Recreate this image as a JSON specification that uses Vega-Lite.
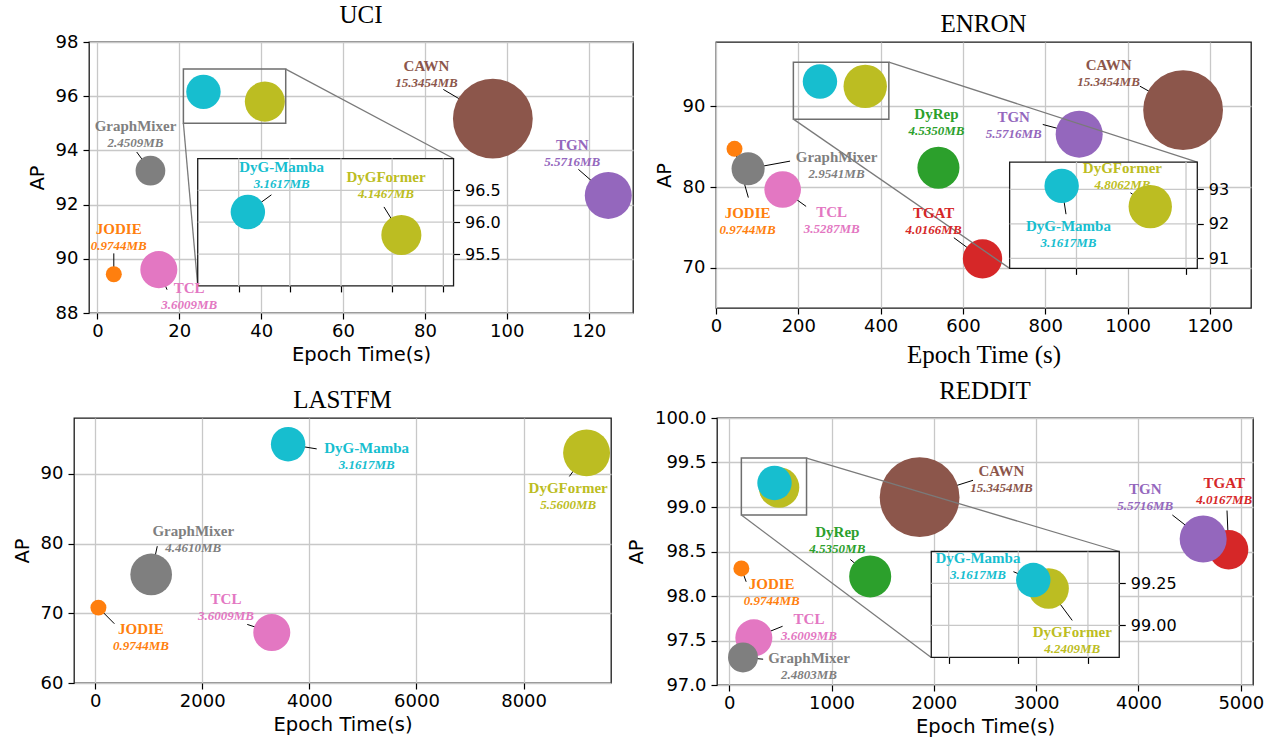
{
"$schema": "https://vega.github.io/schema/vega-lite/v6.json",
"padding": {"left": 11, "top": 2, "right": 0, "bottom": 0},
"background": "white",
"config": {
 "view": {"stroke": "#1a1a1a", "strokeWidth": 1.3},
 "legend": {"disable": true},
 "title": {"font": "Liberation Serif", "fontSize": 25, "fontWeight": "normal", "color": "black", "frame": "group", "offset": 5},
 "axis": {"labelFont": "DejaVu Sans", "labelFontSize": 18, "labelColor": "black", "titleFont": "DejaVu Sans", "titleFontSize": 19.5, "titleFontWeight": "normal", "titleColor": "black", "grid": true, "gridColor": "#c8c8c8", "gridWidth": 1.3, "gridOpacity": 1, "tickColor": "black", "tickSize": 6, "tickWidth": 1.2, "domain": false, "labelFlush": false, "labelOverlap": false},
 "axisX": {"labelPadding": 3, "titlePadding": 5},
 "axisY": {"labelPadding": 5, "titlePadding": 8}
},
"datasets": {
 "uci": [
  {"m":"JODIE","t":4.0,"ap":89.43,"mb":0.9744,"mbl":"0.9744MB","lx":5.2,"ly":91.11,"ex":4.0,"ey":90.2,"z":0},
  {"m":"GraphMixer","t":12.95,"ap":93.25,"mb":2.4509,"mbl":"2.4509MB","lx":9.3,"ly":94.89,"ex":9.6,"ey":93.94,"z":0},
  {"m":"TCL","t":15.0,"ap":89.6,"mb":3.6009,"mbl":"3.6009MB","lx":22.4,"ly":88.93,"ex":17.0,"ey":88.86,"z":0},
  {"m":"CAWN","t":96.6,"ap":95.17,"mb":15.3454,"mbl":"15.3454MB","lx":80.4,"ly":97.11,"ex":84.5,"ey":96.25,"z":0},
  {"m":"TGN","t":124.8,"ap":92.34,"mb":5.5716,"mbl":"5.5716MB","lx":116.0,"ly":94.21,"ex":117.5,"ey":93.3,"z":0},
  {"m":"DyGFormer","t":40.9,"ap":95.8,"mb":4.1467,"mbl":"4.1467MB","lx":39.4,"ly":96.71,"ex":39.2,"ey":96.24,"z":1},
  {"m":"DyG-Mamba","t":25.9,"ap":96.16,"mb":3.1617,"mbl":"3.1617MB","lx":29.2,"ly":96.86,"ex":28.2,"ey":96.43,"z":1}
 ],
 "enron": [
  {"m":"JODIE","t":45,"ap":84.75,"mb":0.9744,"mbl":"0.9744MB","lx":76.7,"ly":76.74,"ex":78.6,"ey":78.7,"z":0},
  {"m":"GraphMixer","t":78,"ap":82.27,"mb":2.9541,"mbl":"2.9541MB","lx":293,"ly":83.76,"ex":180,"ey":83.22,"z":0},
  {"m":"TCL","t":162,"ap":79.7,"mb":3.5287,"mbl":"3.5287MB","lx":281,"ly":76.94,"ex":219,"ey":77.6,"z":0},
  {"m":"DyRep","t":540.5,"ap":82.4,"mb":4.535,"mbl":"4.5350MB","lx":535.6,"ly":89.1,"ex":538.6,"ey":84.7,"z":0},
  {"m":"TGAT","t":647.6,"ap":71.1,"mb":4.0166,"mbl":"4.0166MB","lx":528.7,"ly":76.74,"ex":578,"ey":73.72,"z":0},
  {"m":"TGN","t":882.5,"ap":86.57,"mb":5.5716,"mbl":"5.5716MB","lx":723.3,"ly":88.72,"ex":794,"ey":87.77,"z":0},
  {"m":"CAWN","t":1135,"ap":89.55,"mb":15.3454,"mbl":"15.3454MB","lx":954,"ly":95.2,"ex":1030,"ey":92.52,"z":0},
  {"m":"DyGFormer","t":362.6,"ap":92.5,"mb":4.8062,"mbl":"4.8062MB","lx":328,"ly":93.63,"ex":338,"ey":92.9,"z":1},
  {"m":"DyG-Mamba","t":252.6,"ap":93.1,"mb":3.1617,"mbl":"3.1617MB","lx":261,"ly":91.94,"ex":258,"ey":92.28,"z":1}
 ],
 "lastfm": [
  {"m":"JODIE","t":61,"ap":70.81,"mb":0.9744,"mbl":"0.9744MB","lx":855,"ly":67.71,"ex":359,"ey":68.5,"z":0},
  {"m":"GraphMixer","t":1046,"ap":75.57,"mb":4.461,"mbl":"4.4610MB","lx":1832,"ly":81.86,"ex":1160,"ey":79.62,"z":0},
  {"m":"TCL","t":3298,"ap":67.24,"mb":3.6009,"mbl":"3.6009MB","lx":2443,"ly":72.1,"ex":2840,"ey":68.4,"z":0},
  {"m":"DyG-Mamba","t":3603,"ap":94.24,"mb":3.1617,"mbl":"3.1617MB","lx":5069,"ly":93.67,"ex":4137,"ey":93.57,"z":0},
  {"m":"DyGFormer","t":9176,"ap":93.0,"mb":5.56,"mbl":"5.5600MB","lx":8832,"ly":87.95,"ex":8855,"ey":89.62,"z":0}
 ],
 "reddit": [
  {"m":"JODIE","t":119,"ap":98.31,"mb":0.9744,"mbl":"0.9744MB","lx":415,"ly":98.13,"ex":166,"ey":98.16,"z":0},
  {"m":"TCL","t":241,"ap":97.53,"mb":3.6009,"mbl":"3.6009MB","lx":780,"ly":97.74,"ex":522,"ey":97.66,"z":0},
  {"m":"GraphMixer","t":135,"ap":97.31,"mb":2.4803,"mbl":"2.4803MB","lx":780,"ly":97.30,"ex":332,"ey":97.29,"z":0},
  {"m":"DyRep","t":1378,"ap":98.22,"mb":4.535,"mbl":"4.5350MB","lx":1057,"ly":98.72,"ex":1184,"ey":98.41,"z":0},
  {"m":"CAWN","t":1861,"ap":99.11,"mb":15.3454,"mbl":"15.3454MB","lx":2660,"ly":99.41,"ex":2383,"ey":99.30,"z":0},
  {"m":"TGAT","t":4881,"ap":98.52,"mb":4.0167,"mbl":"4.0167MB","lx":4838,"ly":99.27,"ex":4865,"ey":98.96,"z":0},
  {"m":"TGN","t":4632,"ap":98.64,"mb":5.5716,"mbl":"5.5716MB","lx":4066,"ly":99.2,"ex":4331,"ey":98.91,"z":0},
  {"m":"DyGFormer","t":487,"ap":99.22,"mb":4.2409,"mbl":"4.2409MB","lx":555,"ly":98.96,"ex":555,"ey":99.03,"z":1},
  {"m":"DyG-Mamba","t":443,"ap":99.27,"mb":3.1617,"mbl":"3.1617MB","lx":284,"ly":99.4,"ex":386,"ey":99.32,"z":1}
 ]
},
"resolve": {"scale": {"x": "independent", "y": "independent"}},
"spacing": 10,
"vconcat": [
{"hconcat": [
 {"width": 1, "height": 1, "data": {"values": [{"a": 0}]}, "mark": {"type": "point", "opacity": 0}, "encoding": {}, "view": {"stroke": null}},
 {"hconcat": [
 {"title": {"text": "UCI"}, "width": 544, "height": 271, "data": {"name": "uci"},
  "resolve": {"scale": {"x": "independent", "y": "independent"}},
  "layer": [
   {"layer": [
    {"transform": [{"filter": "datum.z == 0"}], "mark": {"type": "rule", "color": "black", "strokeWidth": 1}, "encoding": {"x": {"field": "t", "type": "quantitative"}, "y": {"field": "ap", "type": "quantitative"}, "x2": {"field": "ex"}, "y2": {"field": "ey"}}},
    {"mark": {"type": "circle", "opacity": 1}, "encoding": {
      "x": {"field": "t", "type": "quantitative", "scale": {"domain": [-2.06, 130.84], "nice": false, "zero": false}, "axis": {"values": [0,20,40,60,80,100,120], "format": "d", "title": "Epoch Time(s)"}},
      "y": {"field": "ap", "type": "quantitative", "scale": {"domain": [88, 98], "nice": false, "zero": false}, "axis": {"values": [88,90,92,94,96,98], "format": "d", "title": "AP"}},
      "size": {"field": "mb", "type": "quantitative", "scale": {"domain": [0.9744, 15.3454], "range": [255, 6366], "zero": false}},
      "color": {"field": "m", "type": "nominal", "scale": {"domain": ["JODIE","DyRep","TGAT","TGN","CAWN","TCL","GraphMixer","DyGFormer","DyG-Mamba"], "range": ["#ff7f0e","#2ca02c","#d62728","#9467bd","#8c564b","#e377c2","#7f7f7f","#bcbd22","#17becf"]}}}},
    {"data": {"values": [{"x1": 21, "x2": 46, "y1": 95, "y2": 97}]}, "mark": {"type": "rect", "fill": "white", "fillOpacity": 0, "stroke": "#6e6e6e", "strokeWidth": 1.5}, "encoding": {"x": {"field": "x1", "type": "quantitative"}, "x2": {"field": "x2"}, "y": {"field": "y1", "type": "quantitative"}, "y2": {"field": "y2"}}},
    {"data": {"values": [{"x1": 46, "y1": 97, "x2": 87, "y2": 93.7}, {"x1": 21, "y1": 95, "x2": 24.5, "y2": 89.0}]}, "mark": {"type": "rule", "color": "#7a7a7a", "strokeWidth": 1.3}, "encoding": {"x": {"field": "x1", "type": "quantitative"}, "x2": {"field": "x2"}, "y": {"field": "y1", "type": "quantitative"}, "y2": {"field": "y2"}}},
    {"data": {"values": [{"x1": 24.5, "x2": 87, "y1": 89.0, "y2": 93.7}]}, "mark": {"type": "rect", "fill": "white", "stroke": "#1a1a1a", "strokeWidth": 1.3}, "encoding": {"x": {"field": "x1", "type": "quantitative"}, "x2": {"field": "x2"}, "y": {"field": "y1", "type": "quantitative"}, "y2": {"field": "y2"}}},
    {"transform": [{"filter": "datum.z == 0"}], "mark": {"type": "text", "font": "Liberation Serif", "fontWeight": "bold", "fontSize": 15, "baseline": "middle"}, "encoding": {"x": {"field": "lx", "type": "quantitative"}, "y": {"field": "ly", "type": "quantitative"}, "text": {"field": "m"}, "color": {"field": "m", "type": "nominal"}}},
    {"transform": [{"filter": "datum.z == 0"}], "mark": {"type": "text", "font": "Liberation Serif", "fontWeight": "bold", "fontStyle": "italic", "fontSize": 13, "baseline": "middle", "dy": 17}, "encoding": {"x": {"field": "lx", "type": "quantitative"}, "y": {"field": "ly", "type": "quantitative"}, "text": {"field": "mbl"}, "color": {"field": "m", "type": "nominal"}}}
   ]},
   {"layer": [
    {"data": {"values": [{"v": 95.5}, {"v": 96}, {"v": 96.5}]}, "mark": {"type": "rule", "color": "#c8c8c8", "strokeWidth": 1.3}, "encoding": {"y": {"field": "v", "type": "quantitative"}, "x": {"datum": 21, "type": "quantitative"}, "x2": {"datum": 46}}},
    {"data": {"values": [{"v": 25}, {"v": 30}, {"v": 35}, {"v": 40}, {"v": 45}]}, "mark": {"type": "rule", "color": "#c8c8c8", "strokeWidth": 1.3}, "encoding": {"x": {"field": "v", "type": "quantitative"}, "y": {"datum": 95, "type": "quantitative"}, "y2": {"datum": 97}}},
    {"transform": [{"filter": "datum.z == 1"}], "mark": {"type": "rule", "color": "black", "strokeWidth": 1}, "encoding": {"x": {"field": "t", "type": "quantitative"}, "y": {"field": "ap", "type": "quantitative"}, "x2": {"field": "ex"}, "y2": {"field": "ey"}}},
    {"transform": [{"filter": "datum.z == 1"}], "mark": {"type": "circle", "opacity": 1}, "encoding": {
      "x": {"field": "t", "type": "quantitative", "scale": {"domain": [21, 46], "range": [108.72, 364.55], "nice": false, "zero": false}, "axis": {"orient": "bottom", "offset": -27.1, "values": [25,30,35,40,45], "labels": false, "grid": false, "title": null}},
      "y": {"field": "ap", "type": "quantitative", "scale": {"domain": [95, 97], "range": [243.9, 116.53], "nice": false, "zero": false}, "axis": {"orient": "right", "offset": -179.45, "values": [95.5, 96, 96.5], "format": ".1f", "grid": false, "title": null, "labelFontSize": 16}},
      "size": {"field": "mb", "type": "quantitative"},
      "color": {"field": "m", "type": "nominal"}}},
    {"transform": [{"filter": "datum.z == 1"}], "mark": {"type": "text", "font": "Liberation Serif", "fontWeight": "bold", "fontSize": 15, "baseline": "middle"}, "encoding": {"x": {"field": "lx", "type": "quantitative"}, "y": {"field": "ly", "type": "quantitative"}, "text": {"field": "m"}, "color": {"field": "m", "type": "nominal"}}},
    {"transform": [{"filter": "datum.z == 1"}], "mark": {"type": "text", "font": "Liberation Serif", "fontWeight": "bold", "fontStyle": "italic", "fontSize": 13, "baseline": "middle", "dy": 17}, "encoding": {"x": {"field": "lx", "type": "quantitative"}, "y": {"field": "ly", "type": "quantitative"}, "text": {"field": "mbl"}, "color": {"field": "m", "type": "nominal"}}}
   ]}
  ]},
 {"title": {"text": "ENRON"}, "width": 535, "height": 266, "data": {"name": "enron"},
  "resolve": {"scale": {"x": "independent", "y": "independent"}},
  "layer": [
   {"layer": [
    {"transform": [{"filter": "datum.z == 0"}], "mark": {"type": "rule", "color": "black", "strokeWidth": 1}, "encoding": {"x": {"field": "t", "type": "quantitative"}, "y": {"field": "ap", "type": "quantitative"}, "x2": {"field": "ex"}, "y2": {"field": "ey"}}},
    {"mark": {"type": "circle", "opacity": 1}, "encoding": {
      "x": {"field": "t", "type": "quantitative", "scale": {"domain": [0, 1300], "nice": false, "zero": false}, "axis": {"values": [0,200,400,600,800,1000,1200], "format": "d", "title": "Epoch Time (s)", "titleFont": "Liberation Serif", "titleFontSize": 25, "titlePadding": 7}},
      "y": {"field": "ap", "type": "quantitative", "scale": {"domain": [65, 98], "nice": false, "zero": false}, "axis": {"values": [70,80,90], "format": "d", "title": "AP"}},
      "size": {"field": "mb", "type": "quantitative", "scale": {"domain": [0.9744, 15.3454], "range": [255, 6366], "zero": false}},
      "color": {"field": "m", "type": "nominal", "scale": {"domain": ["JODIE","DyRep","TGAT","TGN","CAWN","TCL","GraphMixer","DyGFormer","DyG-Mamba"], "range": ["#ff7f0e","#2ca02c","#d62728","#9467bd","#8c564b","#e377c2","#7f7f7f","#bcbd22","#17becf"]}}}},
    {"data": {"values": [{"x1": 188, "x2": 420, "y1": 88.43, "y2": 95.5}]}, "mark": {"type": "rect", "fill": "white", "fillOpacity": 0, "stroke": "#6e6e6e", "strokeWidth": 1.5}, "encoding": {"x": {"field": "x1", "type": "quantitative"}, "x2": {"field": "x2"}, "y": {"field": "y1", "type": "quantitative"}, "y2": {"field": "y2"}}},
    {"data": {"values": [{"x1": 420, "y1": 95.5, "x2": 1169.5, "y2": 83.1}, {"x1": 188, "y1": 88.43, "x2": 713.5, "y2": 69.92}]}, "mark": {"type": "rule", "color": "#7a7a7a", "strokeWidth": 1.3}, "encoding": {"x": {"field": "x1", "type": "quantitative"}, "x2": {"field": "x2"}, "y": {"field": "y1", "type": "quantitative"}, "y2": {"field": "y2"}}},
    {"data": {"values": [{"x1": 713.5, "x2": 1169.5, "y1": 69.92, "y2": 83.1}]}, "mark": {"type": "rect", "fill": "white", "stroke": "#1a1a1a", "strokeWidth": 1.3}, "encoding": {"x": {"field": "x1", "type": "quantitative"}, "x2": {"field": "x2"}, "y": {"field": "y1", "type": "quantitative"}, "y2": {"field": "y2"}}},
    {"transform": [{"filter": "datum.z == 0"}], "mark": {"type": "text", "font": "Liberation Serif", "fontWeight": "bold", "fontSize": 15, "baseline": "middle"}, "encoding": {"x": {"field": "lx", "type": "quantitative"}, "y": {"field": "ly", "type": "quantitative"}, "text": {"field": "m"}, "color": {"field": "m", "type": "nominal"}}},
    {"transform": [{"filter": "datum.z == 0"}], "mark": {"type": "text", "font": "Liberation Serif", "fontWeight": "bold", "fontStyle": "italic", "fontSize": 13, "baseline": "middle", "dy": 17}, "encoding": {"x": {"field": "lx", "type": "quantitative"}, "y": {"field": "ly", "type": "quantitative"}, "text": {"field": "mbl"}, "color": {"field": "m", "type": "nominal"}}}
   ]},
   {"layer": [
    {"data": {"values": [{"v": 91}, {"v": 92}, {"v": 93}]}, "mark": {"type": "rule", "color": "#c8c8c8", "strokeWidth": 1.3}, "encoding": {"y": {"field": "v", "type": "quantitative"}, "x": {"datum": 188, "type": "quantitative"}, "x2": {"datum": 421}}},
    {"data": {"values": [{"v": 271}, {"v": 407}]}, "mark": {"type": "rule", "color": "#c8c8c8", "strokeWidth": 1.3}, "encoding": {"x": {"field": "v", "type": "quantitative"}, "y": {"datum": 90.71, "type": "quantitative"}, "y2": {"datum": 93.79}}},
    {"transform": [{"filter": "datum.z == 1"}], "mark": {"type": "rule", "color": "black", "strokeWidth": 1}, "encoding": {"x": {"field": "t", "type": "quantitative"}, "y": {"field": "ap", "type": "quantitative"}, "x2": {"field": "ex"}, "y2": {"field": "ey"}}},
    {"transform": [{"filter": "datum.z == 1"}], "mark": {"type": "circle", "opacity": 1}, "encoding": {
      "x": {"field": "t", "type": "quantitative", "scale": {"domain": [188, 421], "range": [293.63, 481.29], "nice": false, "zero": false}, "axis": {"orient": "bottom", "offset": -39.66, "values": [271, 407], "labels": false, "grid": false, "title": null}},
      "y": {"field": "ap", "type": "quantitative", "scale": {"domain": [90.71, 93.79], "range": [226.34, 120.1], "nice": false, "zero": false}, "axis": {"orient": "right", "offset": -53.71, "values": [91, 92, 93], "format": "d", "grid": false, "title": null, "labelFontSize": 16}},
      "size": {"field": "mb", "type": "quantitative"},
      "color": {"field": "m", "type": "nominal"}}},
    {"transform": [{"filter": "datum.z == 1"}], "mark": {"type": "text", "font": "Liberation Serif", "fontWeight": "bold", "fontSize": 15, "baseline": "middle"}, "encoding": {"x": {"field": "lx", "type": "quantitative"}, "y": {"field": "ly", "type": "quantitative"}, "text": {"field": "m"}, "color": {"field": "m", "type": "nominal"}}},
    {"transform": [{"filter": "datum.z == 1"}], "mark": {"type": "text", "font": "Liberation Serif", "fontWeight": "bold", "fontStyle": "italic", "fontSize": 13, "baseline": "middle", "dy": 17}, "encoding": {"x": {"field": "lx", "type": "quantitative"}, "y": {"field": "ly", "type": "quantitative"}, "text": {"field": "mbl"}, "color": {"field": "m", "type": "nominal"}}}
   ]}
  ]}
 ], "spacing": 19, "resolve": {"scale": {"x": "independent", "y": "independent"}}}
 ], "spacing": -52, "resolve": {"scale": {"x": "independent", "y": "independent"}}},
{"hconcat": [
 {"title": {"text": "LASTFM"}, "width": 537, "height": 265, "data": {"name": "lastfm"},
  "layer": [
    {"mark": {"type": "rule", "color": "black", "strokeWidth": 1}, "encoding": {"x": {"field": "t", "type": "quantitative"}, "y": {"field": "ap", "type": "quantitative"}, "x2": {"field": "ex"}, "y2": {"field": "ey"}}},
    {"mark": {"type": "circle", "opacity": 1}, "encoding": {
      "x": {"field": "t", "type": "quantitative", "scale": {"domain": [-395, 9632], "nice": false, "zero": false}, "axis": {"values": [0,2000,4000,6000,8000], "format": "d", "title": "Epoch Time(s)"}},
      "y": {"field": "ap", "type": "quantitative", "scale": {"domain": [60, 98], "nice": false, "zero": false}, "axis": {"values": [60,70,80,90], "format": "d", "title": "AP"}},
      "size": {"field": "mb", "type": "quantitative", "scale": {"domain": [0.9744, 15.3454], "range": [255, 6366], "zero": false}},
      "color": {"field": "m", "type": "nominal", "scale": {"domain": ["JODIE","DyRep","TGAT","TGN","CAWN","TCL","GraphMixer","DyGFormer","DyG-Mamba"], "range": ["#ff7f0e","#2ca02c","#d62728","#9467bd","#8c564b","#e377c2","#7f7f7f","#bcbd22","#17becf"]}}}},
    {"mark": {"type": "text", "font": "Liberation Serif", "fontWeight": "bold", "fontSize": 15, "baseline": "middle"}, "encoding": {"x": {"field": "lx", "type": "quantitative"}, "y": {"field": "ly", "type": "quantitative"}, "text": {"field": "m"}, "color": {"field": "m", "type": "nominal"}}},
    {"mark": {"type": "text", "font": "Liberation Serif", "fontWeight": "bold", "fontStyle": "italic", "fontSize": 13, "baseline": "middle", "dy": 17}, "encoding": {"x": {"field": "lx", "type": "quantitative"}, "y": {"field": "ly", "type": "quantitative"}, "text": {"field": "mbl"}, "color": {"field": "m", "type": "nominal"}}}
  ]},
 {"title": {"text": "REDDIT"}, "width": 536, "height": 267, "data": {"name": "reddit"},
  "resolve": {"scale": {"x": "independent", "y": "independent"}},
  "layer": [
   {"layer": [
    {"transform": [{"filter": "datum.z == 0"}], "mark": {"type": "rule", "color": "black", "strokeWidth": 1}, "encoding": {"x": {"field": "t", "type": "quantitative"}, "y": {"field": "ap", "type": "quantitative"}, "x2": {"field": "ex"}, "y2": {"field": "ey"}}},
    {"mark": {"type": "circle", "opacity": 1}, "encoding": {
      "x": {"field": "t", "type": "quantitative", "scale": {"domain": [-119, 5119], "nice": false, "zero": false}, "axis": {"values": [0,1000,2000,3000,4000,5000], "format": "d", "title": "Epoch Time(s)"}},
      "y": {"field": "ap", "type": "quantitative", "scale": {"domain": [97, 100], "nice": false, "zero": false}, "axis": {"values": [97,97.5,98,98.5,99,99.5,100], "format": ".1f", "title": "AP"}},
      "size": {"field": "mb", "type": "quantitative", "scale": {"domain": [0.9744, 15.3454], "range": [255, 6366], "zero": false}},
      "color": {"field": "m", "type": "nominal", "scale": {"domain": ["JODIE","DyRep","TGAT","TGN","CAWN","TCL","GraphMixer","DyGFormer","DyG-Mamba"], "range": ["#ff7f0e","#2ca02c","#d62728","#9467bd","#8c564b","#e377c2","#7f7f7f","#bcbd22","#17becf"]}}}},
    {"data": {"values": [{"x1": 119, "x2": 756, "y1": 98.91, "y2": 99.55}]}, "mark": {"type": "rect", "fill": "white", "fillOpacity": 0, "stroke": "#6e6e6e", "strokeWidth": 1.5}, "encoding": {"x": {"field": "x1", "type": "quantitative"}, "x2": {"field": "x2"}, "y": {"field": "y1", "type": "quantitative"}, "y2": {"field": "y2"}}},
    {"data": {"values": [{"x1": 756, "y1": 99.55, "x2": 3812, "y2": 98.5}, {"x1": 119, "y1": 98.91, "x2": 1975, "y2": 97.31}]}, "mark": {"type": "rule", "color": "#7a7a7a", "strokeWidth": 1.3}, "encoding": {"x": {"field": "x1", "type": "quantitative"}, "x2": {"field": "x2"}, "y": {"field": "y1", "type": "quantitative"}, "y2": {"field": "y2"}}},
    {"data": {"values": [{"x1": 1975, "x2": 3812, "y1": 97.31, "y2": 98.5}]}, "mark": {"type": "rect", "fill": "white", "stroke": "#1a1a1a", "strokeWidth": 1.3}, "encoding": {"x": {"field": "x1", "type": "quantitative"}, "x2": {"field": "x2"}, "y": {"field": "y1", "type": "quantitative"}, "y2": {"field": "y2"}}},
    {"transform": [{"filter": "datum.z == 0"}], "mark": {"type": "text", "font": "Liberation Serif", "fontWeight": "bold", "fontSize": 15, "baseline": "middle"}, "encoding": {"x": {"field": "lx", "type": "quantitative"}, "y": {"field": "ly", "type": "quantitative"}, "text": {"field": "m"}, "color": {"field": "m", "type": "nominal"}}},
    {"transform": [{"filter": "datum.z == 0"}], "mark": {"type": "text", "font": "Liberation Serif", "fontWeight": "bold", "fontStyle": "italic", "fontSize": 13, "baseline": "middle", "dy": 17}, "encoding": {"x": {"field": "lx", "type": "quantitative"}, "y": {"field": "ly", "type": "quantitative"}, "text": {"field": "mbl"}, "color": {"field": "m", "type": "nominal"}}}
   ]},
   {"layer": [
    {"data": {"values": [{"v": 99}, {"v": 99.25}]}, "mark": {"type": "rule", "color": "#c8c8c8", "strokeWidth": 1.3}, "encoding": {"y": {"field": "v", "type": "quantitative"}, "x": {"datum": 150, "type": "quantitative"}, "x2": {"datum": 690}}},
    {"data": {"values": [{"v": 200}, {"v": 400}, {"v": 600}]}, "mark": {"type": "rule", "color": "#c8c8c8", "strokeWidth": 1.3}, "encoding": {"x": {"field": "v", "type": "quantitative"}, "y": {"datum": 98.81, "type": "quantitative"}, "y2": {"datum": 99.44}}},
    {"transform": [{"filter": "datum.z == 1"}], "mark": {"type": "rule", "color": "black", "strokeWidth": 1}, "encoding": {"x": {"field": "t", "type": "quantitative"}, "y": {"field": "ap", "type": "quantitative"}, "x2": {"field": "ex"}, "y2": {"field": "ey"}}},
    {"transform": [{"filter": "datum.z == 1"}], "mark": {"type": "circle", "opacity": 1}, "encoding": {
      "x": {"field": "t", "type": "quantitative", "scale": {"domain": [150, 690], "range": [214.28, 402.26], "nice": false, "zero": false}, "axis": {"orient": "bottom", "offset": -27.59, "values": [200, 400, 600], "labels": false, "grid": false, "title": null}},
      "y": {"field": "ap", "type": "quantitative", "scale": {"domain": [98.81, 99.44], "range": [239.41, 133.5], "nice": false, "zero": false}, "axis": {"orient": "right", "offset": -133.74, "values": [99, 99.25], "format": ".2f", "grid": false, "title": null, "labelFontSize": 16}},
      "size": {"field": "mb", "type": "quantitative"},
      "color": {"field": "m", "type": "nominal"}}},
    {"transform": [{"filter": "datum.z == 1"}], "mark": {"type": "text", "font": "Liberation Serif", "fontWeight": "bold", "fontSize": 15, "baseline": "middle"}, "encoding": {"x": {"field": "lx", "type": "quantitative"}, "y": {"field": "ly", "type": "quantitative"}, "text": {"field": "m"}, "color": {"field": "m", "type": "nominal"}}},
    {"transform": [{"filter": "datum.z == 1"}], "mark": {"type": "text", "font": "Liberation Serif", "fontWeight": "bold", "fontStyle": "italic", "fontSize": 13, "baseline": "middle", "dy": 17}, "encoding": {"x": {"field": "lx", "type": "quantitative"}, "y": {"field": "ly", "type": "quantitative"}, "text": {"field": "mbl"}, "color": {"field": "m", "type": "nominal"}}}
   ]}
  ]}
 ], "spacing": 13, "resolve": {"scale": {"x": "independent", "y": "independent"}}}
]
}
